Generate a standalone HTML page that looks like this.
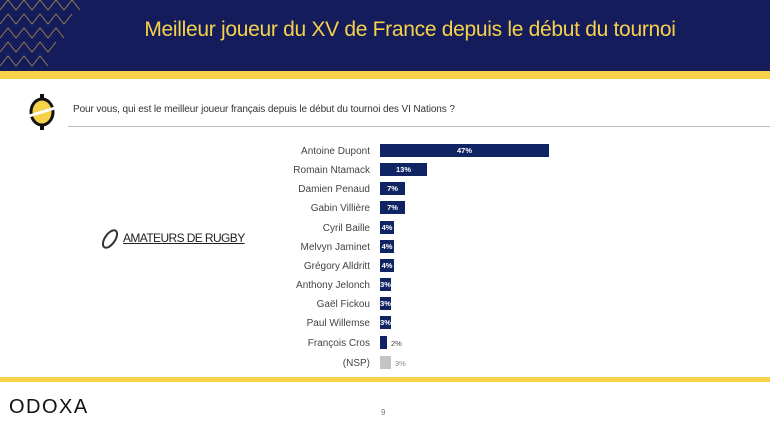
<!DOCTYPE html>
<html><head><meta charset="utf-8"><style>
*{margin:0;padding:0;box-sizing:border-box}
body{width:770px;height:430px;background:#fff;position:relative;overflow:hidden;font-family:"Liberation Sans",sans-serif}
.hdr{position:absolute;left:0;top:0;width:770px;height:71px;background:#141c5c}
.ys{position:absolute;left:0;top:71px;width:770px;height:8px;background:#f6d24a}
.title{position:absolute;left:0;right:0;top:18px;padding-left:50px;text-align:center;color:#f6d24a;font-size:21px;letter-spacing:-0.3px}
.q{position:absolute;left:73px;top:104px;font-size:10px;color:#333;letter-spacing:-0.1px}
.ql{position:absolute;left:68px;top:126px;width:702px;height:1px;background:#bbb}
.lab{position:absolute;right:400px;font-size:10px;color:#444;text-align:right;white-space:nowrap}
.bar{position:absolute;left:380px;height:13px;background:#102463;color:#fff;font-size:7.5px;font-weight:bold;text-align:center;line-height:13px}
.out{position:absolute;font-size:7.5px;color:#444}
.fs{position:absolute;left:0;top:377px;width:770px;height:5px;background:#f6d24a}
.odoxa{position:absolute;left:9px;top:396px;font-size:20px;letter-spacing:1.5px;color:#111}
.pg{position:absolute;left:381px;top:408px;font-size:8px;color:#777}
.amr{position:absolute;left:123px;top:231px;font-size:12px;color:#222;text-decoration:underline;letter-spacing:-0.6px}
</style></head><body>
<div class="hdr">
<svg width="80" height="71" style="position:absolute;left:0;top:0">
<g stroke="#b39a45" stroke-width="1" fill="none" opacity="0.8">
<polyline points="0,10 8,0 16,10 24,0 32,10 40,0 48,10 56,0 64,10 72,0 80,10"/>
<polyline points="0,24 8,14 16,24 24,14 32,24 40,14 48,24 56,14 64,24 72,14"/>
<polyline points="0,38 8,28 16,38 24,28 32,38 40,28 48,38 56,28 64,38"/>
<polyline points="0,52 8,42 16,52 24,42 32,52 40,42 48,52 56,42"/>
<polyline points="0,66 8,56 16,66 24,56 32,66 40,56 48,66"/>
</g></svg>
<div class="title">Meilleur joueur du XV de France depuis le début du tournoi</div>
</div>
<div class="ys"></div>
<svg width="30" height="40" style="position:absolute;left:27px;top:92px">
<ellipse cx="15" cy="20" rx="11" ry="13" fill="#f6d24a" stroke="#111" stroke-width="3"/>
<line x1="2" y1="24" x2="28" y2="16" stroke="#fff" stroke-width="3"/>
<rect x="13" y="2" width="4" height="4" fill="#111"/><rect x="13" y="34" width="4" height="4" fill="#111"/>
</svg>
<div class="q">Pour vous, qui est le meilleur joueur français depuis le début du tournoi des VI Nations ?</div>
<div class="ql"></div>
<svg width="22" height="22" style="position:absolute;left:99px;top:228px"><ellipse cx="11" cy="11" rx="5" ry="10" transform="rotate(35 11 11)" fill="none" stroke="#333" stroke-width="2"/></svg>
<div class="amr">AMATEURS DE RUGBY</div>

<div class="lab" style="top:146px">Antoine Dupont</div><div class="bar" style="top:144px;width:169px">47%</div>
<div class="lab" style="top:165px">Romain Ntamack</div><div class="bar" style="top:163px;width:47px">13%</div>
<div class="lab" style="top:184px">Damien Penaud</div><div class="bar" style="top:182px;width:25px">7%</div>
<div class="lab" style="top:203px">Gabin Villière</div><div class="bar" style="top:201px;width:25px">7%</div>
<div class="lab" style="top:223px">Cyril Baille</div><div class="bar" style="top:221px;width:14px">4%</div>
<div class="lab" style="top:242px">Melvyn Jaminet</div><div class="bar" style="top:240px;width:14px">4%</div>
<div class="lab" style="top:261px">Grégory Alldritt</div><div class="bar" style="top:259px;width:14px">4%</div>
<div class="lab" style="top:280px">Anthony Jelonch</div><div class="bar" style="top:278px;width:11px">3%</div>
<div class="lab" style="top:299px">Gaël Fickou</div><div class="bar" style="top:297px;width:11px">3%</div>
<div class="lab" style="top:318px">Paul Willemse</div><div class="bar" style="top:316px;width:11px">3%</div>
<div class="lab" style="top:338px">François Cros</div><div class="bar" style="top:336px;width:7px"></div><div class="out" style="left:391px;top:339px">2%</div>
<div class="lab" style="top:358px">(NSP)</div><div class="bar" style="top:356px;width:11px;background:#c4c4c4"></div><div class="out" style="left:395px;top:359px;color:#888">3%</div>

<div class="fs"></div>
<div class="odoxa">ODOXA</div>
<div class="pg">9</div>
</body></html>
